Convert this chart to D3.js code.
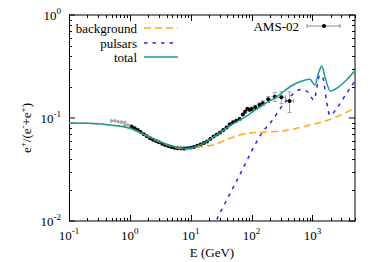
<!DOCTYPE html>
<html><head><meta charset="utf-8">
<script src="https://cdn.jsdelivr.net/npm/d3@7"></script>
<style>
html,body{margin:0;padding:0;background:#fff;}
</style></head>
<body><svg id="c" width="374" height="262"></svg>
<script>
// ---- data ----
const xTickExp = [-1, 0, 1, 2, 3];
const yTickExp = [-2, -1, 0];

const totalE = [0.1,0.2,0.47,1.0,1.64,3.12,5.93,8.5,14.2,23.2,44,84,153,260,476,695,906,1094,1273,1426,1600,1968,2488,3630,5000];
const totalV = [0.0894,0.0888,0.0855,0.0794,0.070,0.0589,0.052,0.0505,0.0547,0.065,0.084,0.105,0.134,0.161,0.209,0.230,0.238,0.209,0.280,0.320,0.252,0.183,0.194,0.234,0.289];

const bgE = [0.1,0.2,0.47,1.0,1.64,3.12,5.93,8.5,14.2,23.2,44,84,137,224,327,554,906,1483,2517,4113,5000];
const bgV = [0.0894,0.0888,0.0855,0.0794,0.0698,0.0585,0.0513,0.0495,0.0525,0.0547,0.0635,0.0707,0.0727,0.0736,0.0748,0.0794,0.0855,0.092,0.103,0.118,0.125];

const psrE = [17.1,25.9,64.3,156,215,327,459,645,840,1054,1322,1483,1723,1931,2614,3670,5000];
const psrV = [0.00625,0.01,0.0283,0.0748,0.0935,0.134,0.167,0.189,0.179,0.150,0.261,0.245,0.140,0.106,0.129,0.175,0.229];

const amsE = [0.50,0.565,0.64,0.725,0.82,0.93,
  1.07,1.2,1.35,1.5,1.7,1.9,2.15,2.4,2.7,3.0,3.4,3.8,4.3,4.8,5.4,6.1,6.9,7.8,8.8,10.0,11.3,12.8,14.5,16.4,18.5,
  21.0,23.7,26.8,30.3,34.3,38.8,43.9,49.6,56.1,63.5,71.9,78,85,92,100,115,135,153,188,241,309,420];
const amsV = [0.094,0.094,0.0925,0.091,0.0885,0.086,
  0.0825,0.0795,0.0765,0.0730,0.0695,0.0665,0.0637,0.0615,0.0597,0.0580,0.0563,0.0548,0.0535,0.0524,0.0515,0.0509,0.0505,0.0505,0.0508,0.0514,0.0523,0.0537,0.0553,0.0572,0.0592,
  0.0625,0.066,0.069,0.0725,0.0765,0.081,0.087,0.091,0.094,0.098,0.108,0.115,0.123,0.120,0.122,0.127,0.134,0.139,0.152,0.161,0.159,0.146];
const amsErr = [0.004,0.004,0.004,0.004,0.004,0.003,
  0.002,0.002,0.002,0.002,0.002,0.002,0.002,0.002,0.002,0.002,0.002,0.002,0.002,0.002,0.002,0.002,0.002,0.002,0.002,0.002,0.002,0.002,0.002,0.002,0.002,
  0.002,0.002,0.002,0.002,0.003,0.003,0.003,0.003,0.004,0.004,0.004,0.005,0.005,0.005,0.006,0.006,0.007,0.008,0.010,0.016,0.021,0.033];
const lowEnergyGrey = 1.0;

const legendLeft = ["background","pulsars","total"];
const legendRight = "AMS-02";

// ---- layout ----
const L = 69, R = 355, T = 15, B = 221;
const FONT = '"Liberation Serif"';
const colTotal = "#1b9a94", colBg = "#ffa81a", colPsr = "#2222ff";

const svg = d3.select("#c");
const x = d3.scaleLog().domain([0.1, 5000]).range([L, R]);
const y = d3.scaleLog().domain([0.01, 1]).range([B, T]);

svg.append("defs").append("clipPath").attr("id","clip")
  .append("rect").attr("x",L).attr("y",T).attr("width",R-L).attr("height",B-T);

// ticks
const xMajor = xTickExp.map(e => Math.pow(10,e));
const xMinor = [];
for (let e=-1;e<=3;e++) for (let m=2;m<=9;m++){ const v=m*Math.pow(10,e); if (v<=5000) xMinor.push(v); }
const yMajor = yTickExp.map(e => Math.pow(10,e));
const yMinor = [];
for (let e=-2;e<0;e++) for (let m=2;m<=9;m++) yMinor.push(m*Math.pow(10,e));

const tk = svg.append("g").attr("stroke","#000").attr("stroke-width",1);
function vtick(px, len){
  tk.append("line").attr("x1",px).attr("x2",px).attr("y1",B).attr("y2",B-len);
  tk.append("line").attr("x1",px).attr("x2",px).attr("y1",T).attr("y2",T+len);
}
function htick(py, len){
  tk.append("line").attr("x1",L).attr("x2",L+len).attr("y1",py).attr("y2",py);
  tk.append("line").attr("x1",R).attr("x2",R-len).attr("y1",py).attr("y2",py);
}
xMajor.forEach(v => vtick(Math.round(x(v))+0.5, 6));
xMinor.forEach(v => vtick(Math.round(x(v))+0.5, 3));
yMajor.forEach(v => htick(y(v), 6));
yMinor.forEach(v => htick(Math.round(y(v))+0.5, 3));

// frame
svg.append("rect").attr("x",L+0.5).attr("y",T).attr("width",R-L-0.5).attr("height",B-T)
  .attr("fill","none").attr("stroke","#000").attr("stroke-width",1);

function txt(sel, size){
  return sel.append("text").style("font-family",FONT).style("font-size",size+"px").attr("fill","#000");
}

// tick labels
function powLabel(sel, e){
  sel.append("tspan").text("10");
  sel.append("tspan").style("font-size","9px").attr("dy",-6).text(String(e));
}
xTickExp.forEach(e => {
  const t = txt(svg,13).attr("x", x(Math.pow(10,e))).attr("y",240).attr("text-anchor","middle");
  powLabel(t, e);
});
yTickExp.forEach(e => {
  const t = txt(svg,13).attr("x", 61).attr("y", y(Math.pow(10,e))+5).attr("text-anchor","end");
  powLabel(t, e);
});

// axis titles
txt(svg,13).attr("x",212).attr("y",257).attr("text-anchor","middle").text("E (GeV)");
const yl = txt(svg,13).attr("transform","translate(31,128) rotate(-90)").attr("text-anchor","middle");
yl.append("tspan").text("e");
yl.append("tspan").style("font-size","9px").attr("dy",-5).text("+");
yl.append("tspan").attr("dy",5).text("/(e");
yl.append("tspan").style("font-size","9px").attr("dy",-5).text("-");
yl.append("tspan").attr("dy",5).text("+e");
yl.append("tspan").style("font-size","9px").attr("dy",-5).text("+");
yl.append("tspan").attr("dy",5).text(")");

// data points
const dg = svg.append("g").attr("clip-path","url(#clip)");
amsE.forEach((E,i) => {
  const prev = i>0 ? Math.sqrt(amsE[i-1]*E) : E*E/Math.sqrt(E*amsE[i+1]);
  const next = i<amsE.length-1 ? Math.sqrt(amsE[i+1]*E) : E*E/Math.sqrt(E*amsE[i-1]);
  const cx = x(E), cy = y(amsV[i]);
  const y0 = y(amsV[i]-amsErr[i]), y1 = y(amsV[i]+amsErr[i]);
  const g = dg.append("g").attr("stroke","#a0a0a0").attr("stroke-width",1);
  g.append("line").attr("x1",x(prev)).attr("x2",x(next)).attr("y1",cy).attr("y2",cy);
  g.append("line").attr("x1",cx).attr("x2",cx).attr("y1",y0).attr("y2",y1);
  if (y0-y1 > 4) {
    g.append("line").attr("x1",cx-2).attr("x2",cx+2).attr("y1",y0).attr("y2",y0);
    g.append("line").attr("x1",cx-2).attr("x2",cx+2).attr("y1",y1).attr("y2",y1);
  }
  if (next/prev > 1.3) {
    g.append("line").attr("x1",x(prev)).attr("x2",x(prev)).attr("y1",cy-2).attr("y2",cy+2);
    g.append("line").attr("x1",x(next)).attr("x2",x(next)).attr("y1",cy-2).attr("y2",cy+2);
  }
});
amsE.forEach((E,i) => {
  dg.append("circle").attr("cx",x(E)).attr("cy",y(amsV[i])).attr("r", E < lowEnergyGrey ? 1.6 : 2)
    .attr("fill", E < lowEnergyGrey ? "#a8a8a8" : "#000");
});

// curves
const line = d3.line().x(d=>x(d[0])).y(d=>y(d[1])).curve(d3.curveMonotoneX);
const cg = svg.append("g").attr("clip-path","url(#clip)").attr("fill","none");
cg.append("path").attr("d", line(bgE.map((e,i)=>[e,bgV[i]])))
  .attr("stroke",colBg).attr("stroke-width",1.5).attr("stroke-dasharray","7,4");
cg.append("path").attr("d", line(psrE.map((e,i)=>[e,psrV[i]])))
  .attr("stroke",colPsr).attr("stroke-width",1.5).attr("stroke-dasharray","3.5,5");
cg.append("path").attr("d", line(totalE.map((e,i)=>[e,totalV[i]])))
  .attr("stroke",colTotal).attr("stroke-width",1.5);

// legend left
const legY = [28, 43, 57];
const legStyle = [[colBg,"7,4"],[colPsr,"3.5,5"],[colTotal,null]];
legendLeft.forEach((s,i) => {
  txt(svg,13).attr("x",137).attr("y",legY[i]+4.5).attr("text-anchor","end").text(s);
  const l = svg.append("line").attr("x1",144).attr("x2",178).attr("y1",legY[i]).attr("y2",legY[i])
    .attr("stroke",legStyle[i][0]).attr("stroke-width",1.5);
  if (legStyle[i][1]) l.attr("stroke-dasharray",legStyle[i][1]);
});
// legend right
txt(svg,13).attr("x",299).attr("y",30.5).attr("text-anchor","end").text(legendRight);
const lg = svg.append("g").attr("stroke","#8a8a8a").attr("stroke-width",1);
lg.append("line").attr("x1",307).attr("x2",340).attr("y1",26).attr("y2",26);
lg.append("line").attr("x1",307).attr("x2",307).attr("y1",24).attr("y2",28);
lg.append("line").attr("x1",340).attr("x2",340).attr("y1",24).attr("y2",28);
svg.append("circle").attr("cx",324).attr("cy",26).attr("r",2).attr("fill","#000");
</script></body></html>
